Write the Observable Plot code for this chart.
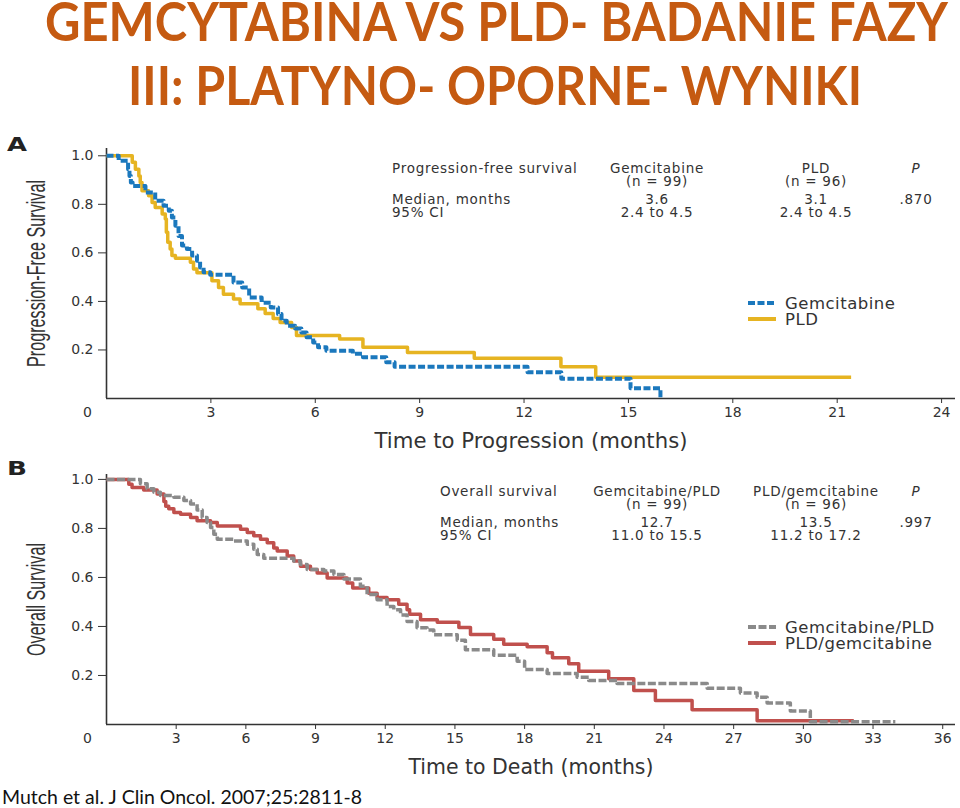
<!DOCTYPE html>
<html><head><meta charset="utf-8">
<script src="https://cdn.jsdelivr.net/npm/d3@7"></script>
<script src="https://cdn.jsdelivr.net/npm/@observablehq/plot@0.6"></script>
<style>
body{margin:0;background:#fff;}
#page{position:relative;width:960px;height:808px;overflow:hidden;background:#fff;}
#page > svg{position:absolute;left:0;}
</style></head><body><div id="page"></div>
<script>
// ---------- Panel A: progression-free survival (Kaplan-Meier steps) ----------
const pfsGemT = [0,0.35,0.62,0.66,0.70,0.75,1.12,1.40,1.64,1.79,1.88,1.98,2.07,2.17,2.31,2.46,2.60,2.69,2.79,2.98,3.65,3.90,4.10,4.46,4.72,4.93,5.03,5.18,5.42,5.60,5.75,5.94,6.08,6.32,7.08,7.37,8.04,8.28,12.10,13.07,15.06,15.92];
const pfsGemS = [1.0,0.98,0.945,0.917,0.89,0.875,0.849,0.815,0.794,0.774,0.746,0.712,0.67,0.63,0.616,0.589,0.568,0.54,0.52,0.51,0.478,0.457,0.416,0.395,0.375,0.348,0.32,0.30,0.288,0.272,0.252,0.231,0.211,0.197,0.184,0.17,0.149,0.131,0.108,0.081,0.042,0.0];
const pfsPldT = [0,0.74,0.83,0.93,0.97,1.02,1.21,1.31,1.40,1.60,1.69,1.72,1.76,1.83,1.88,1.98,2.41,2.50,2.60,3.03,3.22,3.36,3.65,3.84,4.35,4.56,4.79,4.99,5.32,5.46,6.70,7.37,8.65,10.57,13.06,14.06,21.40];
const pfsPldS = [1.0,0.973,0.945,0.917,0.89,0.856,0.835,0.808,0.787,0.76,0.74,0.685,0.644,0.616,0.589,0.578,0.561,0.534,0.518,0.485,0.457,0.43,0.41,0.39,0.37,0.35,0.33,0.313,0.293,0.26,0.245,0.211,0.19,0.166,0.131,0.088,0.088];
const pfsXTicks = [3,6,9,12,15,18,21,24];

// ---------- Panel B: overall survival ----------
const osGemPldT = [0,1.46,1.75,2.04,2.32,2.90,3.33,3.62,3.90,4.12,4.33,4.48,4.62,4.77,5.48,6.06,6.34,6.49,6.77,8.06,8.35,8.64,9.36,9.79,10.22,10.93,11.22,11.65,12.08,12.37,12.66,12.94,13.37,13.80,14.09,15.10,15.45,16.67,17.68,18.00,18.97,20.26,20.76,21.98,25.86,27.29,28.01,28.44,29.44,30.30,33.96];
const osGemPldS = [1.0,0.982,0.962,0.948,0.934,0.927,0.914,0.9,0.875,0.845,0.824,0.804,0.776,0.756,0.749,0.735,0.715,0.694,0.678,0.667,0.653,0.632,0.626,0.612,0.594,0.564,0.53,0.509,0.481,0.468,0.447,0.42,0.395,0.386,0.366,0.344,0.305,0.283,0.258,0.224,0.208,0.193,0.18,0.167,0.148,0.129,0.111,0.088,0.055,0.011,0.011];
const osPldGemT = [0,0.96,1.10,1.60,2.18,2.47,2.55,2.68,2.90,3.19,3.62,3.90,4.48,4.77,5.77,6.06,6.34,6.63,6.92,7.20,7.35,7.78,8.06,8.35,8.78,9.07,9.50,10.36,10.60,11.29,11.65,12.08,12.58,12.94,13.05,13.52,14.24,15.17,15.67,16.67,17.10,18.11,18.97,19.20,19.90,20.33,21.62,22.70,23.63,25.21,28.01,32.17];
const osPldGemS = [1.0,0.98,0.967,0.957,0.94,0.91,0.89,0.88,0.865,0.858,0.845,0.831,0.824,0.81,0.797,0.783,0.77,0.756,0.742,0.72,0.708,0.687,0.667,0.646,0.632,0.618,0.598,0.577,0.557,0.536,0.518,0.509,0.491,0.468,0.45,0.427,0.417,0.396,0.367,0.348,0.327,0.317,0.293,0.272,0.248,0.217,0.187,0.139,0.098,0.06,0.015,0.015];
const osXTicks = [3,6,9,12,15,18,21,24,27,30,33,36];

const yTicks = [0.2,0.4,0.6,0.8,1.0];

// ---------- Tables and legends ----------
const pfsHeader = ["Progression-free survival","Gemcitabine","PLD","P"];
const pfsN      = ["","(n = 99)","(n = 96)",""];
const pfsMedian = ["Median, months","3.6","3.1",".870"];
const pfsCI     = ["95% CI","2.4 to 4.5","2.4 to 4.5",""];
const osHeader  = ["Overall survival","Gemcitabine/PLD","PLD/gemcitabine","P"];
const osN       = ["","(n = 99)","(n = 96)",""];
const osMedian  = ["Median, months","12.7","13.5",".997"];
const osCI      = ["95% CI","11.0 to 15.5","11.2 to 17.2",""];
const pfsLegend = ["Gemcitabine","PLD"];
const osLegend  = ["Gemcitabine/PLD","PLD/gemcitabine"];

const titleLines = ["GEMCYTABINA VS PLD- BADANIE FAZY","III: PLATYNO- OPORNE- WYNIKI"];
const caption = "Mutch et al. J Clin Oncol. 2007;25:2811-8";

const BLUE = "#1b78bd", YELLOW = "#e6b422", RED = "#c0504d", GRAY = "#8a8a8a", INK = "#333";
const zip = (T, S) => T.map((t, i) => ({t, s: S[i]}));

function panel({series, xMax, yMax, xTicks, xLabel, yLabel, xLabelLen, yLabelLen}) {
  const svg = Plot.plot({
    width: 960, height: 340,
    marginLeft: 106, marginRight: 5, marginTop: 28, marginBottom: 62,
    style: {background: "transparent", overflow: "visible", fontFamily: "DejaVu Sans", fontSize: "14px", color: INK},
    x: {domain: [0, xMax]},
    y: {domain: [0, yMax]},
    marks: [
      Plot.axisX({ticks: xTicks, tickSize: 5, tickPadding: 4, label: xLabel, labelAnchor: "center", labelArrow: "none", labelOffset: 49, stroke: INK}),
      Plot.axisY({ticks: yTicks, tickSize: 8, tickPadding: 5, tickFormat: d3.format(".1f"), label: yLabel, labelAnchor: "center", labelArrow: "none", labelOffset: 79, stroke: INK}),
      Plot.ruleX([0], {stroke: INK, strokeWidth: 1.6}),
      Plot.ruleY([0], {stroke: INK, strokeWidth: 1.6}),
      ...series.map(d => Plot.line(d.data, {x: "t", y: "s", curve: "step-after", stroke: d.color, strokeWidth: d.width, strokeDasharray: d.dash, strokeLinecap: "butt"})),
      Plot.text([{t: 0, s: 0}], {x: "t", y: "s", text: () => "0", dx: -19, dy: 9, lineAnchor: "top", fill: INK, fontSize: 14})
    ]
  });
  const s = d3.select(svg);
  s.selectAll('g[aria-label="x-axis label"] text')
    .style("font-size", "20.5px").style("font-family", "DejaVu Sans").attr("fill", INK)
    .attr("textLength", xLabelLen).attr("lengthAdjust", "spacingAndGlyphs");
  s.selectAll('g[aria-label="y-axis label"] text')
    .style("font-size", "25px").style("font-family", "'Liberation Sans Narrow', 'Liberation Sans', sans-serif").attr("fill", INK)
    .attr("textLength", yLabelLen).attr("lengthAdjust", "spacingAndGlyphs");
  return svg;
}

const page = document.getElementById("page");

const plotA = panel({
  series: [
    {data: zip(pfsPldT, pfsPldS), color: YELLOW, width: 3.5, dash: null},
    {data: zip(pfsGemT, pfsGemS), color: BLUE, width: 4, dash: "7,2.5"}
  ],
  xMax: 24.4, yMax: 1.03, xTicks: pfsXTicks,
  xLabel: "Time to Progression (months)", yLabel: "Progression-Free Survival",
  xLabelLen: 313, yLabelLen: 187
});
plotA.style.top = "120px";
page.appendChild(plotA);

const plotB = panel({
  series: [
    {data: zip(osPldGemT, osPldGemS), color: RED, width: 3.5, dash: null},
    {data: zip(osGemPldT, osGemPldS), color: GRAY, width: 3.5, dash: "8,2.5"}
  ],
  xMax: 36.55, yMax: 1.02, xTicks: osXTicks,
  xLabel: "Time to Death (months)", yLabel: "Overall Survival",
  xLabelLen: 245, yLabelLen: 113
});
plotB.style.top = "446px";
page.appendChild(plotB);

// ---------- Overlay: title, panel letters, tables, legends, caption ----------
const ov = d3.select(page).append("svg").attr("width", 960).attr("height", 808)
  .style("top", "0px").style("pointer-events", "none");

const titleX = [45, 128], titleBase = [41, 105], titleLen = [903, 734];
titleLines.forEach((t, i) => {
  ov.append("text").attr("x", titleX[i]).attr("y", titleBase[i]).text(t)
    .attr("fill", "#c55a11").style("font-family", "Lato, 'Open Sans', sans-serif")
    .style("font-weight", 700).style("font-size", "54px")
    .attr("textLength", titleLen[i]).attr("lengthAdjust", "spacingAndGlyphs");
});

[["A", 151], ["B", 475]].forEach(([l, y]) => {
  ov.append("text").attr("x", 7).attr("y", y).text(l).attr("fill", "#222")
    .style("font-family", "DejaVu Sans").style("font-weight", 700).style("font-size", "19px")
    .attr("textLength", 20).attr("lengthAdjust", "spacingAndGlyphs");
});

function table(rows, xLeft, bases) {
  const cx = [xLeft, 657, 816, 916];
  rows.forEach((row, r) => {
    row.forEach((txt, c) => {
      if (!txt) return;
      ov.append("text").attr("x", cx[c]).attr("y", bases[r]).text(txt)
        .attr("text-anchor", c === 0 ? "start" : "middle").attr("fill", INK)
        .style("font-family", "DejaVu Sans").style("font-size", "13.5px")
        .style("letter-spacing", "0.75px")
        .style("font-style", (r === 0 && c === 3) ? "italic" : "normal");
    });
  });
}
table([pfsHeader, pfsN, pfsMedian, pfsCI], 392, [173, 185.5, 204, 216.5]);
table([osHeader, osN, osMedian, osCI], 440, [496, 508.5, 526.5, 540]);

function legend(labels, colors, dashes, ys) {
  labels.forEach((lab, i) => {
    ov.append("line").attr("x1", 748).attr("x2", 776).attr("y1", ys[i]).attr("y2", ys[i])
      .attr("stroke", colors[i]).attr("stroke-width", 4).attr("stroke-dasharray", dashes[i]);
    ov.append("text").attr("x", 785).attr("y", ys[i] + 5.5).text(lab).attr("fill", INK)
      .style("font-family", "DejaVu Sans").style("font-size", "16.5px").style("letter-spacing", "0.5px");
  });
}
legend(pfsLegend, [BLUE, YELLOW], ["7,2.5", null], [303, 319]);
legend(osLegend, [GRAY, RED], ["8,2.5", null], [627, 643]);

ov.append("text").attr("x", 2).attr("y", 804).text(caption).attr("fill", "#111")
  .style("font-family", "Lato, sans-serif").style("font-size", "19px")
  .attr("textLength", 360).attr("lengthAdjust", "spacingAndGlyphs");
</script></body></html>
